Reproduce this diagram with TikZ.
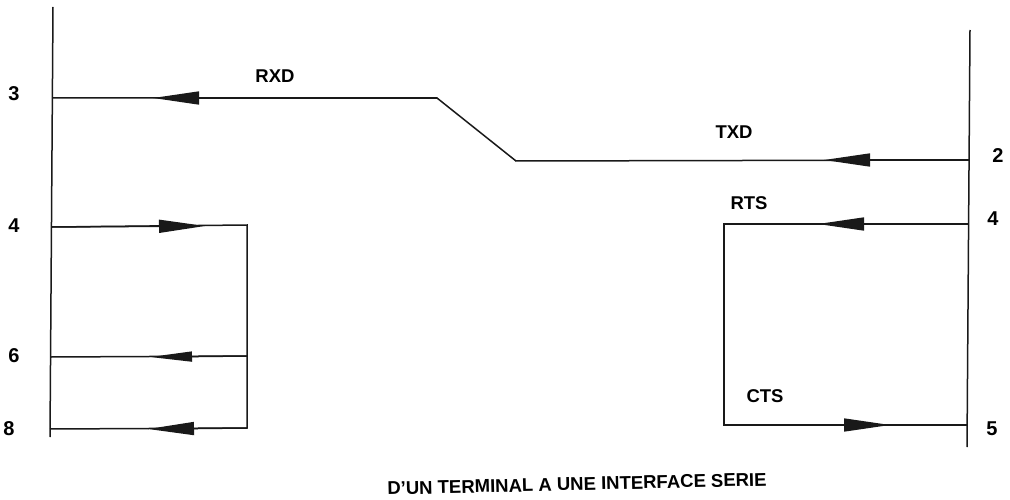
\documentclass[tikz,border=0pt]{standalone}
\usepackage{fontspec}
\setmainfont{Liberation Sans}
\usetikzlibrary{positioning,arrows.meta}

\begin{document}
\begin{tikzpicture}
    [x=1pt,y=-1pt,
     wire/.style={draw=black!90,line width=1.5pt},
     head/.style={wire,-{Triangle[length=46pt,width=13pt]}},
     thinhead/.style={wire,-{Triangle[length=42pt,width=10pt]}},
     pin/.style={font=\bfseries\fontsize{20}{20}\selectfont,inner sep=0pt},
     signal/.style={font=\bfseries\fontsize{18.5}{18.5}\selectfont,inner sep=0pt}]

    \useasboundingbox (0,0) rectangle (1010,500);

    % the two bars
    \coordinate (lefttop) at (53,7);
    \coordinate (leftbot) at (50,437);
    \coordinate (righttop) at (970,30);
    \coordinate (rightbot) at (967,447);
    \draw[wire] (lefttop) -- (leftbot);
    \draw[wire] (righttop) -- (rightbot);

    % RXD / TXD
    \coordinate (rxdend) at (52,98);
    \coordinate (rxdtip) at (153,98);
    \coordinate (rxdbend) at (437,98);
    \coordinate (txdbend) at (516,161);
    \coordinate (txdtip) at (824,160);
    \coordinate (txdend) at (969,160);
    \draw[wire] (rxdend) -- (rxdbend) -- (txdbend) -- (txdend);
    \draw[head] (rxdbend) -- (rxdtip);
    \draw[head] (txdend) -- (txdtip);

    % left loop
    \coordinate (fourend) at (52,227);
    \coordinate (fourtip) at (205,226);
    \coordinate (loopa) at (247,225);
    \coordinate (sixend) at (51,357);
    \coordinate (sixtip) at (150,357);
    \coordinate (loopb) at (247,356);
    \coordinate (eightend) at (50,429);
    \coordinate (eighttip) at (148,429);
    \coordinate (loopc) at (247,428);
    \draw[wire] (fourend) -- (loopa) -- (loopc) -- (eightend);
    \draw[wire] (sixend) -- (loopb);
    \draw[head] (fourend) -- (fourtip);
    \draw[thinhead] (loopb) -- (sixtip);
    \draw[head] (loopc) -- (eighttip);

    % right loop
    \coordinate (rtsend) at (968,224);
    \coordinate (rtstip) at (818,224);
    \coordinate (rtscorner) at (724,224);
    \coordinate (ctscorner) at (724,425);
    \coordinate (ctstip) at (890,425);
    \coordinate (ctsend) at (967,425);
    \draw[wire] (rtsend) -- (rtscorner) -- (ctscorner) -- (ctsend);
    \draw[head] (rtsend) -- (rtstip);
    \draw[head] (ctscorner) -- (ctstip);

    \node[pin] (pinthree) at (14,94) {3};
    \node[pin] (pinfour) at (14,226) {4};
    \node[pin] (pinsix) at (14,356) {6};
    \node[pin] (pineight) at (9,429) {8};
    \node[pin] (pintwo) at (998,156) {2};
    \node[pin] (pinfourb) at (993,219) {4};
    \node[pin] (pinfive) at (992,429) {5};

    \node[signal] (rxd) at (275,76) {RXD};
    \node[signal] (txd) at (734,132) {TXD};
    \node[signal] (rts) at (749,203) {RTS};
    \node[signal] (cts) at (765,396) {CTS};

    \node[signal,rotate=1.4] (title) at (577,484) {D'UN TERMINAL A UNE INTERFACE SERIE};
\end{tikzpicture}
\end{document}
